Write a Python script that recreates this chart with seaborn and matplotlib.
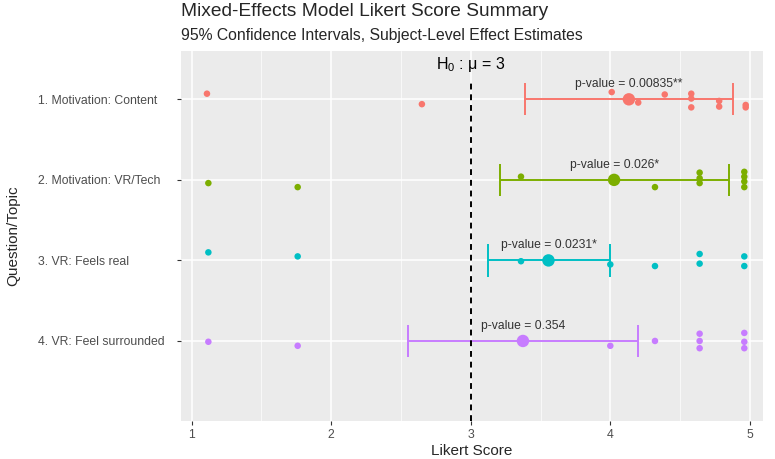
import numpy as np
import pandas as pd
import matplotlib
matplotlib.use("Agg")
import matplotlib.pyplot as plt
import seaborn as sns
from matplotlib.ticker import MultipleLocator

# Dane
questions = ["1. Motivation: Content",
             "2. Motivation: VR/Tech",
             "3. VR: Feels real",
             "4. VR: Feel surrounded"]
estimates = [4.133, 4.027, 3.557, 3.374]
ci_low = [3.392, 3.212, 3.121, 2.552]
ci_high = [4.877, 4.852, 3.996, 4.199]
p_labels = ["p-value = 0.00835**", "p-value = 0.026*",
            "p-value = 0.0231*", "p-value = 0.354"]

# Oszacowania na poziomie badanych (wartosci + pionowy rozrzut)
scores_q1 = [1.11, 2.65, 4.01, 4.20, 4.39, 4.58, 4.58, 4.58, 4.78, 4.78, 4.97, 4.97]
jitter_q1 = [-0.07, 0.06, -0.09, 0.04, -0.06, -0.07, -0.01, 0.10, 0.02, 0.09, 0.07, 0.10]
scores_q2 = [1.12, 1.76, 3.36, 4.32, 4.64, 4.64, 4.64, 4.96, 4.96, 4.96, 4.96]
jitter_q2 = [0.04, 0.09, -0.04, 0.09, -0.09, -0.02, 0.04, -0.10, -0.04, 0.02, 0.09]
scores_q3 = [1.12, 1.76, 3.36, 4.00, 4.32, 4.64, 4.64, 4.96, 4.96]
jitter_q3 = [-0.10, -0.05, 0.01, 0.05, 0.07, -0.08, 0.04, -0.05, 0.07]
scores_q4 = [1.12, 1.76, 4.00, 4.32, 4.64, 4.64, 4.64, 4.96, 4.96, 4.96]
jitter_q4 = [0.01, 0.06, 0.06, 0.00, -0.09, 0.00, 0.09, -0.10, 0.01, 0.09]

scores = [scores_q1, scores_q2, scores_q3, scores_q4]
jitters = [jitter_q1, jitter_q2, jitter_q3, jitter_q4]
null_mu = 3

colors = ["#F8766D", "#7CAE00", "#00BFC4", "#C77CFF"]

# Tabele dla seaborn
rows = []
for i, q in enumerate(questions):
    for s, j in zip(scores[i], jitters[i]):
        rows.append({"question": q, "score": s, "ypos": i + j})
subj = pd.DataFrame(rows)
est = pd.DataFrame({"question": questions, "estimate": estimates,
                    "low": ci_low, "high": ci_high,
                    "row": np.arange(len(questions))})

sns.set_theme(style="darkgrid", rc={
    "axes.facecolor": "#EBEBEB",
    "grid.color": "white",
    "axes.edgecolor": "#EBEBEB",
    "xtick.bottom": True, "ytick.left": True,
    "xtick.color": "#333333", "ytick.color": "#333333",
    "xtick.major.size": 3, "ytick.major.size": 3,
    "xtick.major.width": 0.8, "ytick.major.width": 0.8,
})
plt.rcParams["font.family"] = ["Liberation Sans", "DejaVu Sans"]
plt.rcParams["mathtext.fontset"] = "custom"
plt.rcParams["mathtext.rm"] = "Liberation Sans"
plt.rcParams["mathtext.it"] = "Liberation Sans:italic"

fig = plt.figure(figsize=(7.75, 4.59), dpi=100)
ax = fig.add_axes([181 / 775, 1 - 420.7 / 459, 582 / 775, 369.7 / 459])
y_bottom, y_top = 3.99, -0.6

# Przedzialy ufnosci
ax.hlines(est["row"], est["low"], est["high"], colors=colors, lw=1.4, zorder=2)
ax.vlines(est["low"], est["row"] - 0.2, est["row"] + 0.2, colors=colors, lw=1.4, zorder=2)
ax.vlines(est["high"], est["row"] - 0.2, est["row"] + 0.2, colors=colors, lw=1.4, zorder=2)

sns.scatterplot(data=subj, x="score", y="ypos", hue="question", palette=colors,
                s=22, linewidth=0, legend=False, ax=ax, zorder=3)
sns.scatterplot(data=est, x="estimate", y="row", hue="question", palette=colors,
                s=80, linewidth=0, legend=False, ax=ax, zorder=4)

ax.vlines(null_mu, y_bottom, -0.24, color="black", lw=1.4, ls=(0, (3, 2.5)), zorder=3)
ax.text(null_mu, -0.43, r"H$_0$ : μ = 3", ha="center", va="center",
        fontsize=11.5, color="black")

for i in range(len(questions)):
    ax.text(estimates[i], i - 0.19, p_labels[i], ha="center", va="center",
            fontsize=8.7, color="#333333", zorder=5)

ax.set_xlim(0.924, 5.094)
ax.set_ylim(y_bottom, y_top)
ax.set_yticks(range(len(questions)))
ax.set_yticklabels(questions, ha="left")
ax.xaxis.set_major_locator(MultipleLocator(1))
ax.xaxis.set_minor_locator(MultipleLocator(0.5))
ax.grid(which="major", lw=1.1)
ax.grid(which="minor", axis="x", lw=0.5)
ax.tick_params(axis="x", which="minor", length=0)
ax.tick_params(axis="both", labelsize=8.8, labelcolor="#4D4D4D")
# etykiety osi Y wyrownane do lewej (jak w ggplot hjust = 0)
ax.tick_params(axis="y", pad=100)
ax.tick_params(axis="x", pad=3)
for sp in ax.spines.values():
    sp.set_visible(False)

ax.set_xlabel("Likert Score", fontsize=11)
ax.set_ylabel("Question/Topic", fontsize=11)
ax.xaxis.set_label_coords(0.5, -0.062)
ax.yaxis.set_label_coords(-0.276, 0.5)

fig.text(181 / 775, 1 - 12 / 459, "Mixed-Effects Model Likert Score Summary",
         fontsize=13.8, ha="left", va="center")
fig.text(181 / 775, 1 - 35.7 / 459, "95% Confidence Intervals, Subject-Level Effect Estimates",
         fontsize=11.3, ha="left", va="center")

plt.savefig("out.png", dpi=100)
